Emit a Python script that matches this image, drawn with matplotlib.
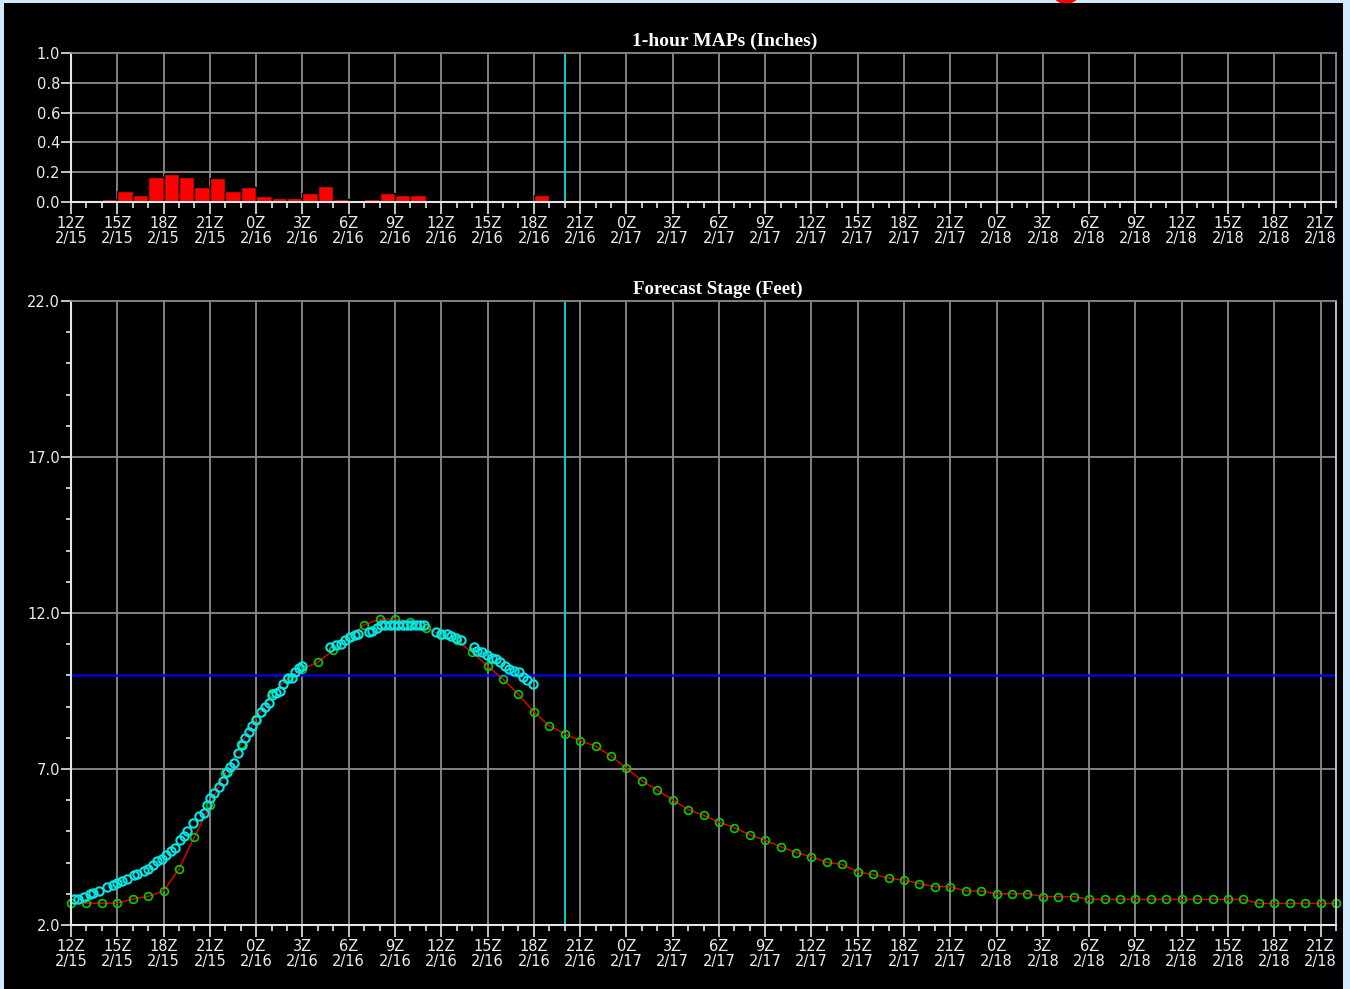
import matplotlib
matplotlib.use("Agg")
import matplotlib.pyplot as plt
from matplotlib import font_manager as fm
from matplotlib.patches import Rectangle, Ellipse
from matplotlib.ticker import MultipleLocator, FixedLocator
import numpy as np

# ---------------- data ----------------
# hours after 12Z 2/15
start_hour = 12
start_day = 15
x_max = 82

# 1-hour MAPs (inches), bar for hour h..h+1
map_hours = list(range(0, 31))
map_values = [0, 0, 0.02, 0.076, 0.049, 0.168, 0.188, 0.17, 0.103, 0.159,
              0.076, 0.103, 0.038, 0.029, 0.029, 0.058, 0.105, 0.02, 0, 0.02,
              0.058, 0.049, 0.049, 0, 0, 0, 0, 0, 0, 0, 0.049]
map_ticks = [0.0, 0.2, 0.4, 0.6, 0.8, 1.0]

# observed stage (ft)
obs_hours = [0.19, 0.48, 0.84, 1.23, 1.45, 1.84, 2.32, 2.75, 3.00, 3.29,
             3.61, 4.09, 4.31, 4.70, 4.96, 5.30, 5.60, 5.89, 6.17, 6.47,
             6.75, 7.08, 7.34, 7.55, 7.94, 8.27, 8.59, 8.81, 9.03, 9.29,
             9.57, 9.85, 10.11, 10.32, 10.54, 10.80, 11.08, 11.30, 11.52, 11.73,
             12.01, 12.32, 12.60, 12.81, 13.03, 13.30, 13.57, 13.74, 14.05, 14.33,
             14.55, 14.81, 14.98, 16.82, 17.21, 17.47, 17.79, 18.07, 18.38, 18.59,
             19.31, 19.53, 19.85, 20.10, 20.38, 20.66, 20.94, 21.22, 21.50, 21.78,
             22.06, 22.34, 22.62, 22.87, 23.64, 23.96, 24.35, 24.61, 24.94, 25.26,
             26.12, 26.34, 26.67, 26.95, 27.32, 27.53, 27.81, 28.12, 28.40, 28.73,
             29.05, 29.33, 29.59, 29.92]
obs_stage = [2.82, 2.84, 2.91, 2.99, 3.02, 3.08, 3.21, 3.29, 3.34, 3.42,
             3.48, 3.59, 3.63, 3.74, 3.80, 3.91, 4.04, 4.13, 4.23, 4.36,
             4.47, 4.72, 4.85, 5.02, 5.28, 5.49, 5.60, 5.84, 6.06, 6.24,
             6.43, 6.63, 6.91, 7.07, 7.20, 7.50, 7.77, 7.98, 8.20, 8.38,
             8.57, 8.84, 8.98, 9.13, 9.37, 9.45, 9.51, 9.72, 9.91, 9.91,
             10.12, 10.23, 10.30, 10.92, 10.97, 11.01, 11.13, 11.22, 11.29, 11.33,
             11.40, 11.42, 11.53, 11.60, 11.62, 11.62, 11.62, 11.62, 11.62, 11.62,
             11.62, 11.62, 11.62, 11.60, 11.40, 11.32, 11.32, 11.27, 11.19, 11.13,
             10.92, 10.78, 10.74, 10.65, 10.55, 10.53, 10.44, 10.31, 10.21, 10.14,
             10.10, 9.96, 9.85, 9.71]

# forecast stage (ft), hourly
fcst_hours = list(range(0, 83))
fcst_stage = [2.70, 2.70, 2.70, 2.70, 2.83, 2.92, 3.09, 3.80, 4.82, 5.84,
              6.86, 7.79, 8.61, 9.43, 9.87, 10.21, 10.42, 10.81, 11.22, 11.62,
              11.80, 11.81, 11.72, 11.53, 11.29, 11.13, 10.74, 10.30, 9.88, 9.40,
              8.83, 8.39, 8.13, 7.91, 7.73, 7.42, 7.02, 6.63, 6.32, 6.01,
              5.70, 5.52, 5.30, 5.12, 4.89, 4.72, 4.51, 4.32, 4.19, 4.01,
              3.94, 3.70, 3.62, 3.50, 3.44, 3.33, 3.23, 3.23, 3.09, 3.09,
              3.00, 3.00, 3.00, 2.91, 2.91, 2.91, 2.82, 2.82, 2.82, 2.82,
              2.82, 2.82, 2.82, 2.82, 2.82, 2.82, 2.82, 2.69, 2.69, 2.69,
              2.69, 2.69, 2.69]
stage_ticks = [2.0, 7.0, 12.0, 17.0, 22.0]

flood_stage = 10.0
now_hour = 32

# ---------------- styling ----------------
names = {f.name for f in fm.fontManager.ttflist}
tick_font = 'Liberation Sans Narrow' if 'Liberation Sans Narrow' in names else 'DejaVu Sans'
title_font = 'Liberation Serif' if 'Liberation Serif' in names else 'DejaVu Serif'

W, H = 1350, 989
fig = plt.figure(figsize=(W / 100, H / 100), dpi=100)
fig.patch.set_facecolor('#cfeaff')

# decorative red cap and black panel background (behind the axes)
fig.patches.append(Ellipse((1066 / W, 1 + 8 / H), 28 / W, 24 / H, transform=fig.transFigure,
                           facecolor='#ff0000', edgecolor='none', zorder=-3))
fig.patches.append(Rectangle((4 / W, 0), 1339 / W, 1 - 3 / H, transform=fig.transFigure,
                             facecolor='black', edgecolor='none', zorder=-2))

GRID = '#8c8c8c'
AXC = '#e6e6e6'
TXT = '#ececec'

def xlabel(h):
    hh = (start_hour + h) % 24
    dd = start_day + (start_hour + h) // 24
    return f"{hh}Z\n2/{dd}"

def style_axes(ax, ymin, ymax, yticks, yminor):
    ax.set_facecolor('none')
    ax.set_xlim(0, x_max)
    ax.set_ylim(ymin, ymax)
    major_x = list(range(0, x_max, 3))
    ax.xaxis.set_major_locator(FixedLocator(major_x))
    ax.xaxis.set_minor_locator(MultipleLocator(1))
    ax.set_xticklabels([xlabel(h) for h in major_x])
    ax.yaxis.set_major_locator(FixedLocator(yticks))
    if yminor:
        ax.yaxis.set_minor_locator(MultipleLocator(yminor))
    ax.yaxis.set_major_formatter(matplotlib.ticker.FormatStrFormatter('%.1f'))
    ax.tick_params(axis='x', which='major', length=8.5, width=1.2, color=AXC,
                   labelcolor=TXT, labelsize=10.5, pad=1.5)
    ax.tick_params(axis='x', which='minor', length=4.3, width=1.2, color=AXC)
    ax.tick_params(axis='y', which='major', length=7, width=1.2, color=AXC,
                   labelcolor=TXT, labelsize=10.5, pad=1)
    ax.tick_params(axis='y', which='minor', length=3.6, width=1.2, color=AXC)
    for lab in ax.get_xticklabels() + ax.get_yticklabels():
        lab.set_fontfamily(tick_font)
        lab.set_linespacing(1.05)
    for h in range(3, x_max, 3):
        ax.axvline(h, color=GRID, lw=1.3, zorder=1)
    for v in yticks[1:-1]:
        ax.axhline(v, color=GRID, lw=1.3, zorder=1)
    ax.spines['left'].set_color(AXC)
    ax.spines['bottom'].set_color(AXC)
    ax.spines['left'].set_linewidth(1.5)
    ax.spines['bottom'].set_linewidth(1.5)
    ax.spines['top'].set_color(GRID)
    ax.spines['top'].set_linewidth(1.3)
    for s in ax.spines.values():
        s.set_zorder(5)

# ---------------- top panel: MAPs ----------------
ax1 = fig.add_axes([71 / W, 1 - 202 / H, 1265 / W, 149 / H])
style_axes(ax1, 0, 1.0, map_ticks, None)
ax1.spines['right'].set_color(GRID)
ax1.spines['right'].set_linewidth(1.3)
ax1.bar(map_hours, map_values, width=1.0, align='edge', color='#ff0000',
        edgecolor='black', linewidth=1.0, zorder=3)
ax1.axvline(now_hour, color='#00d0d0', lw=1.4, zorder=4)
fig.text(632 / W, 1 - 41 / H, '1-hour MAPs (Inches)', color='white',
         fontfamily=title_font, fontweight='bold', fontsize=14, va='center', ha='left')

# ---------------- bottom panel: stage ----------------
ax2 = fig.add_axes([71 / W, 1 - 925 / H, 1265 / W, 624 / H])
style_axes(ax2, 2.0, 22.0, stage_ticks, 1)
ax2.spines['right'].set_color('#d0d0d0')
ax2.spines['right'].set_linewidth(1.3)
ax2.axhline(flood_stage, color='#0000e0', lw=1.8, zorder=2)
ax2.axvline(now_hour, color='#00d0d0', lw=1.4, zorder=2)
ax2.plot(fcst_hours, fcst_stage, color='#dd0000', lw=1.1, zorder=3)
ax2.plot(fcst_hours, fcst_stage, ls='none', marker='o', ms=5.6, mfc='none',
         mec='#00d000', mew=1.2, zorder=4, clip_on=False)
ax2.plot(obs_hours, obs_stage, ls='none', marker='o', ms=6.0, mfc='none',
         mec='#00e8e8', mew=1.5, zorder=5)
fig.text(633 / W, 1 - 289 / H, 'Forecast Stage (Feet)', color='white',
         fontfamily=title_font, fontweight='bold', fontsize=13.6, va='center', ha='left')

fig.savefig('out.png', dpi=100, facecolor=fig.get_facecolor())
